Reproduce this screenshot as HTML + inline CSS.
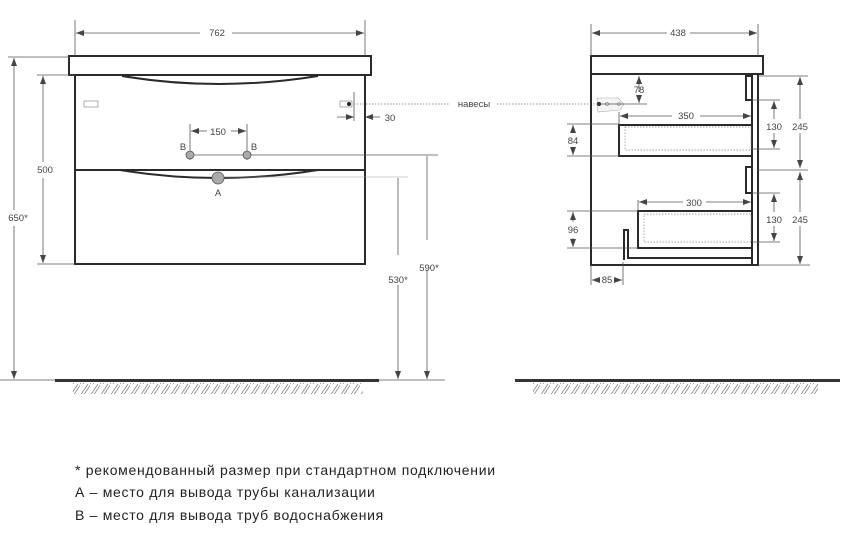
<!DOCTYPE html>
<html><head><meta charset="utf-8"><style>
body{margin:0;background:#fff;width:855px;height:530px;overflow:hidden}
svg{font-family:"Liberation Sans",sans-serif}
.t{font-size:9.5px;fill:#444;text-anchor:middle}
.d{stroke:#555;stroke-width:0.8;fill:none}
.o{stroke:#2a2a2a;stroke-width:2;fill:none}
.leg{font-size:14px;fill:#222;letter-spacing:0.7px}
</style></head><body>
<svg width="855" height="530" viewBox="0 0 855 530">
<defs>
<marker id="a" markerWidth="8" markerHeight="6" refX="8" refY="3" orient="auto-start-reverse" markerUnits="userSpaceOnUse"><path d="M0,0 L8,3 L0,6z" fill="#444"/></marker>
<pattern id="h" width="10" height="12" patternUnits="userSpaceOnUse"><path d="M0,12 L8,0 M3,12 L11,0" stroke="#777" stroke-width="0.7"/></pattern>
</defs>
<!-- LEFT VIEW -->
<rect x="69" y="56" width="302" height="19" class="o"/>
<rect x="75" y="75" width="290" height="189" class="o"/>
<line x1="75" y1="170" x2="365" y2="170" class="o"/>
<path d="M122,76 Q218,92 318,76" class="o" stroke-width="1.5"/>
<path d="M120,170 Q218,186 318,170" class="o" stroke-width="1.5"/>
<rect x="84" y="101" width="14" height="6" fill="none" stroke="#999" stroke-width="0.8"/>
<rect x="340" y="101" width="12" height="6" fill="none" stroke="#999" stroke-width="0.8"/>
<circle cx="349" cy="104" r="2" fill="#222"/>
<line x1="354" y1="92" x2="354" y2="121" class="d"/>
<line x1="337" y1="117" x2="354" y2="117" class="d" marker-end="url(#a)"/>
<line x1="380" y1="117" x2="365" y2="117" class="d" marker-end="url(#a)"/>
<text x="390" y="121" class="t">30</text>
<line x1="354" y1="104" x2="450" y2="104" stroke="#999" stroke-dasharray="1.5,1.5"/>
<text x="474" y="107" class="t">навесы</text>
<line x1="497" y1="104" x2="600" y2="104" stroke="#999" stroke-dasharray="1.5,1.5"/>
<!-- 762 -->
<line x1="75" y1="20" x2="75" y2="56" class="d"/><line x1="365" y1="20" x2="365" y2="56" class="d"/>
<line x1="200" y1="33" x2="76" y2="33" class="d" marker-end="url(#a)"/>
<line x1="232" y1="33" x2="364" y2="33" class="d" marker-end="url(#a)"/>
<text x="217" y="36" class="t">762</text>
<!-- 650 -->
<line x1="8" y1="57" x2="69" y2="57" class="d"/>
<line x1="14" y1="210" x2="14" y2="58" class="d" marker-end="url(#a)"/>
<line x1="14" y1="226" x2="14" y2="379" class="d" marker-end="url(#a)"/>
<text x="18" y="221" class="t">650*</text>
<!-- 500 -->
<line x1="37" y1="75" x2="75" y2="75" class="d"/><line x1="37" y1="264" x2="75" y2="264" class="d"/>
<line x1="43" y1="162" x2="43" y2="76" class="d" marker-end="url(#a)"/>
<line x1="43" y1="178" x2="43" y2="263" class="d" marker-end="url(#a)"/>
<text x="45" y="173" class="t">500</text>
<!-- 150 -->
<line x1="190" y1="124" x2="190" y2="160" class="d"/><line x1="247" y1="124" x2="247" y2="160" class="d"/>
<line x1="207" y1="131" x2="191" y2="131" class="d" marker-end="url(#a)"/>
<line x1="231" y1="131" x2="246" y2="131" class="d" marker-end="url(#a)"/>
<text x="218" y="135" class="t">150</text>
<line x1="190" y1="155" x2="438" y2="155" class="d"/>
<circle cx="190" cy="155" r="4" fill="#aaa" stroke="#555" stroke-width="0.8"/>
<circle cx="247" cy="155" r="4" fill="#aaa" stroke="#555" stroke-width="0.8"/>
<text x="183" y="150" class="t">B</text><text x="254" y="150" class="t">B</text>
<line x1="218" y1="177" x2="408" y2="177" stroke="#999" stroke-width="0.6"/>
<circle cx="218" cy="178" r="6" fill="#aaa" stroke="#555" stroke-width="0.8"/>
<text x="218" y="196" class="t">A</text>
<!-- 590 / 530 -->
<line x1="427" y1="156" x2="427" y2="240" class="d"/>
<line x1="427" y1="270" x2="427" y2="379" class="d" marker-end="url(#a)"/>
<text x="429" y="271" class="t">590*</text>
<line x1="398" y1="178" x2="398" y2="255" class="d"/>
<line x1="398" y1="285" x2="398" y2="379" class="d" marker-end="url(#a)"/>
<text x="398" y="283" class="t">530*</text>
<line x1="0" y1="380" x2="445" y2="380" class="d"/>
<rect x="55" y="379" width="324" height="3" fill="#333"/>
<rect x="73" y="383" width="290" height="11" fill="url(#h)"/>
<!-- RIGHT VIEW -->
<rect x="591" y="56" width="172" height="18" class="o"/>
<path d="M591,74 V265 H758 V74" class="o"/>
<path d="M752,74 V265" class="o"/>
<path d="M752,76 H746 V100 H752" class="o" stroke-width="1.5"/>
<path d="M752,167 H746 V193 H752" class="o" stroke-width="1.5"/>
<line x1="758" y1="170" x2="808" y2="170" class="d"/>
<rect x="619" y="125" width="133" height="31" class="o"/>
<rect x="625" y="127" width="126" height="23" fill="none" stroke="#888" stroke-width="0.7" stroke-dasharray="1.5,1.5"/>
<rect x="638" y="211" width="114" height="37" class="o"/>
<rect x="644" y="214" width="107" height="28" fill="none" stroke="#888" stroke-width="0.7" stroke-dasharray="1.5,1.5"/>
<path d="M624,260 V230 H628 V258 H752" class="o" stroke-width="1.5"/>
<path d="M597,98 L618,98 L624,104 L620,110 L598,112 Z" fill="#f4f4f4" stroke="#aaa" stroke-width="0.6"/>
<circle cx="599" cy="104" r="2" fill="#222"/>
<circle cx="607" cy="104" r="1.5" fill="none" stroke="#777" stroke-width="0.6"/>
<circle cx="619" cy="104" r="1.5" fill="none" stroke="#777" stroke-width="0.6"/>
<line x1="597" y1="104" x2="647" y2="104" class="d"/>
<!-- 438 -->
<line x1="591" y1="24" x2="591" y2="56" class="d"/><line x1="758" y1="24" x2="758" y2="56" class="d"/>
<line x1="667" y1="33" x2="592" y2="33" class="d" marker-end="url(#a)"/>
<line x1="690" y1="33" x2="757" y2="33" class="d" marker-end="url(#a)"/>
<text x="678" y="36" class="t">438</text>
<!-- 78 -->
<line x1="639" y1="92" x2="639" y2="76" class="d" marker-end="url(#a)"/>
<line x1="639" y1="96" x2="639" y2="103" class="d" marker-end="url(#a)"/>
<text x="639" y="93" class="t">78</text>
<!-- 350 -->
<line x1="619" y1="112" x2="619" y2="125" class="d"/>
<line x1="672" y1="116" x2="620" y2="116" class="d" marker-end="url(#a)"/>
<line x1="700" y1="116" x2="751" y2="116" class="d" marker-end="url(#a)"/>
<text x="686" y="119" class="t">350</text>
<!-- 84 -->
<line x1="567" y1="124" x2="619" y2="124" class="d"/><line x1="567" y1="156" x2="619" y2="156" class="d"/>
<line x1="573" y1="133" x2="573" y2="125" class="d" marker-end="url(#a)"/>
<line x1="573" y1="148" x2="573" y2="155" class="d" marker-end="url(#a)"/>
<text x="573" y="144" class="t">84</text>
<!-- 300 -->
<line x1="638" y1="200" x2="638" y2="211" class="d"/>
<line x1="683" y1="202" x2="639" y2="202" class="d" marker-end="url(#a)"/>
<line x1="706" y1="202" x2="751" y2="202" class="d" marker-end="url(#a)"/>
<text x="694" y="206" class="t">300</text>
<!-- 96 -->
<line x1="567" y1="211" x2="638" y2="211" class="d"/><line x1="567" y1="248" x2="638" y2="248" class="d"/>
<line x1="573" y1="222" x2="573" y2="212" class="d" marker-end="url(#a)"/>
<line x1="573" y1="238" x2="573" y2="247" class="d" marker-end="url(#a)"/>
<text x="573" y="233" class="t">96</text>
<!-- 85 -->
<line x1="591" y1="265" x2="591" y2="285" class="d"/><line x1="623" y1="262" x2="623" y2="285" class="d"/>
<line x1="598" y1="280" x2="592" y2="280" class="d" marker-end="url(#a)"/>
<line x1="616" y1="280" x2="622" y2="280" class="d" marker-end="url(#a)"/>
<text x="607" y="283" class="t">85</text>
<!-- 130s -->
<line x1="752" y1="100" x2="780" y2="100" class="d"/><line x1="752" y1="149" x2="780" y2="149" class="d"/>
<line x1="774" y1="119" x2="774" y2="101" class="d" marker-end="url(#a)"/>
<line x1="774" y1="133" x2="774" y2="148" class="d" marker-end="url(#a)"/>
<text x="774" y="130" class="t">130</text>
<line x1="752" y1="193" x2="780" y2="193" class="d"/><line x1="752" y1="242" x2="780" y2="242" class="d"/>
<line x1="774" y1="212" x2="774" y2="194" class="d" marker-end="url(#a)"/>
<line x1="774" y1="226" x2="774" y2="241" class="d" marker-end="url(#a)"/>
<text x="774" y="223" class="t">130</text>
<!-- 245s -->
<line x1="758" y1="76" x2="808" y2="76" class="d"/><line x1="758" y1="265" x2="810" y2="265" class="d"/>
<line x1="800" y1="119" x2="800" y2="77" class="d" marker-end="url(#a)"/>
<line x1="800" y1="133" x2="800" y2="168" class="d" marker-end="url(#a)"/>
<text x="800" y="130" class="t">245</text>
<line x1="800" y1="212" x2="800" y2="172" class="d" marker-end="url(#a)"/>
<line x1="800" y1="226" x2="800" y2="264" class="d" marker-end="url(#a)"/>
<text x="800" y="223" class="t">245</text>
<rect x="515" y="379" width="325" height="3" fill="#333"/>
<rect x="533" y="383" width="285" height="11" fill="url(#h)"/>
<!-- legend -->
<text x="75" y="475" class="leg">* рекомендованный размер при стандартном подключении</text>
<text x="75" y="497" class="leg">А – место для вывода трубы канализации</text>
<text x="75" y="520" class="leg">В – место для вывода труб водоснабжения</text>
</svg>
</body></html>
